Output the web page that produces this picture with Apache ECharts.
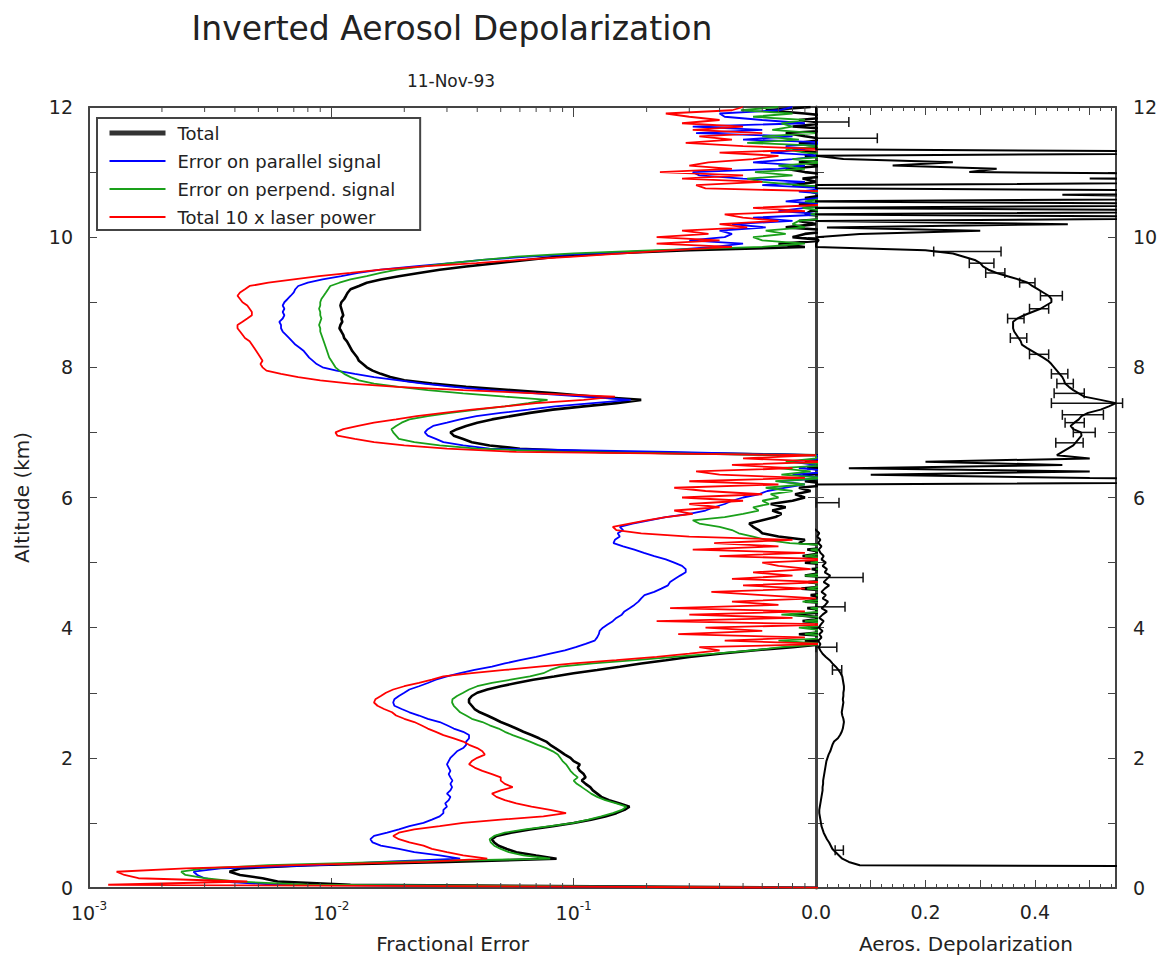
<!DOCTYPE html>
<html>
<head>
<meta charset="utf-8">
<title>Inverted Aerosol Depolarization</title>
<script src="https://cdn.jsdelivr.net/npm/echarts@6/dist/echarts.min.js"></script>
<style>
  html, body { margin: 0; padding: 0; background: #fff; }
  #chart { width: 1168px; height: 959px; }
</style>
</head>
<body>
<div id="chart"></div>
<script>
// lidar range bins, 50 m apart, 0..12 km
const altitude = Array.from({ length: 241 }, (_, i) => Math.round(i * 5) / 100);

// fractional error, one row per km (20 bins each)
const totalError = [
  1.5, 0.012, 0.006, 0.0052, 0.0042, 0.0038, 0.0042, 0.008, 0.03, 0.085, 0.07, 0.058, 0.053, 0.049, 0.047, 0.046, 0.048, 0.055, 0.066, 0.082,
  0.1, 0.118, 0.135, 0.15, 0.162, 0.17, 0.155, 0.14, 0.13, 0.125, 0.12, 0.117, 0.112, 0.108, 0.112, 0.11, 0.106, 0.104, 0.106, 0.1,
  0.097, 0.092, 0.088, 0.084, 0.08, 0.077, 0.072, 0.067, 0.062, 0.058, 0.054, 0.05, 0.047, 0.044, 0.041, 0.039, 0.038, 0.037, 0.037, 0.038,
  0.04, 0.044, 0.05, 0.058, 0.068, 0.083, 0.1, 0.125, 0.155, 0.19, 0.24, 0.3, 0.4, 0.55, 0.8, 1.1, 0.9, 1.3, 0.85, 1.2,
  0.95, 1.4, 0.88, 1.1, 0.8, 1.2, 0.92, 1.5, 0.9, 1.1, 0.95, 1.3, 0.87, 1.2, 0.93, 1.4, 0.9, 1.1, 0.96, 1.3,
  0.9, 1.2, 0.88, 1.1, 0.92, 1.3, 0.85, 0.9, 0.7, 0.6, 0.58, 0.55, 0.53, 0.6, 0.68, 0.72, 0.66, 0.75, 0.65, 0.8,
  0.9, 0.82, 0.95, 0.85, 1.2, 0.9, 1.1, 0.88, 1.3, 0.92, 1.1, 0.9, 1.2, 1.0, 0.13, 0.06, 0.045, 0.038, 0.035, 0.032,
  0.031, 0.033, 0.036, 0.04, 0.046, 0.055, 0.066, 0.082, 0.11, 0.15, 0.19, 0.12, 0.084, 0.055, 0.036, 0.026, 0.02, 0.0175, 0.016, 0.0148,
  0.014, 0.0135, 0.013, 0.0128, 0.0125, 0.0122, 0.012, 0.0118, 0.0116, 0.0113, 0.0112, 0.011, 0.0108, 0.0109, 0.0111, 0.011, 0.0112, 0.0111, 0.011, 0.0109,
  0.011, 0.0113, 0.0115, 0.0117, 0.012, 0.013, 0.014, 0.016, 0.019, 0.023, 0.028, 0.036, 0.048, 0.064, 0.085, 0.14, 0.3, 0.9, 0.7, 1.1,
  0.8, 0.9, 1.2, 0.75, 1.0, 0.85, 1.3, 0.9, 0.95, 1.2, 0.85, 1.4, 0.9, 1.1, 0.95, 1.3, 0.8, 1.0, 0.88, 1.2,
  0.9, 0.75, 1.1, 0.85, 1.3, 0.9, 1.0, 0.8, 1.2, 0.85, 1.1, 0.9, 0.75, 1.3, 0.8, 1.1, 0.85, 1.2, 0.9, 0.62,
  0.95
];

const parallelError = [
  1.5, 0.006, 0.0035, 0.003, 0.0028, 0.0027, 0.0035, 0.009, 0.016, 0.034, 0.028, 0.022, 0.019, 0.016, 0.0148, 0.0145, 0.015, 0.017, 0.019, 0.021,
  0.024, 0.026, 0.028, 0.029, 0.029, 0.03, 0.0295, 0.0305, 0.031, 0.03, 0.031, 0.0315, 0.031, 0.0316, 0.031, 0.0305, 0.031, 0.0305, 0.03, 0.0305,
  0.031, 0.032, 0.033, 0.035, 0.036, 0.036, 0.037, 0.037, 0.035, 0.032, 0.03, 0.028, 0.025, 0.023, 0.021, 0.0195, 0.0182, 0.018, 0.0182, 0.019,
  0.02, 0.021, 0.023, 0.025, 0.027, 0.03, 0.034, 0.039, 0.046, 0.052, 0.06, 0.07, 0.08, 0.092, 0.102, 0.112, 0.122, 0.125, 0.127, 0.128,
  0.132, 0.138, 0.145, 0.15, 0.158, 0.162, 0.17, 0.178, 0.185, 0.19, 0.196, 0.215, 0.23, 0.245, 0.25, 0.262, 0.275, 0.29, 0.29, 0.28,
  0.26, 0.24, 0.215, 0.195, 0.178, 0.16, 0.146, 0.148, 0.155, 0.152, 0.16, 0.155, 0.175, 0.205, 0.24, 0.3, 0.35, 0.38, 0.42, 0.45,
  0.5, 0.58, 0.63, 0.75, 0.9, 0.7, 1.1, 0.8, 1.2, 0.85, 1.0, 0.78, 1.1, 1.0, 0.25, 0.045, 0.035, 0.029, 0.027, 0.025,
  0.0243, 0.025, 0.0263, 0.03, 0.034, 0.0397, 0.05, 0.065, 0.084, 0.12, 0.172, 0.11, 0.07, 0.045, 0.032, 0.024, 0.019, 0.015, 0.0125, 0.0105,
  0.0092, 0.0087, 0.0084, 0.0081, 0.0079, 0.0077, 0.0074, 0.0071, 0.0069, 0.0067, 0.0065, 0.0063, 0.0062, 0.0062, 0.0061, 0.0063, 0.0064, 0.0063, 0.0064, 0.0063,
  0.0064, 0.0066, 0.0068, 0.007, 0.0071, 0.0073, 0.008, 0.0092, 0.011, 0.0129, 0.016, 0.022, 0.031, 0.042, 0.065, 0.12, 0.25, 0.38, 0.5, 0.3,
  0.42, 0.45, 0.4, 0.62, 0.45, 0.8, 0.55, 1.1, 0.7, 0.9, 1.2, 0.75, 1.0, 1.3, 0.85, 1.1, 0.6, 0.9, 0.5, 0.33,
  0.31, 0.7, 0.9, 0.55, 0.8, 1.1, 0.65, 0.9, 0.75, 1.2, 0.5, 0.8, 0.32, 0.6, 0.31, 0.9, 0.6, 0.42, 0.4, 0.7,
  0.8
];

const perpendError = [
  1.5, 0.008, 0.004, 0.003, 0.0025, 0.0024, 0.003, 0.0055, 0.017, 0.08, 0.062, 0.054, 0.05, 0.047, 0.0455, 0.045, 0.047, 0.052, 0.063, 0.08,
  0.1, 0.115, 0.13, 0.145, 0.158, 0.165, 0.15, 0.135, 0.125, 0.118, 0.113, 0.108, 0.103, 0.1, 0.104, 0.1, 0.097, 0.095, 0.093, 0.09,
  0.088, 0.086, 0.082, 0.077, 0.071, 0.066, 0.061, 0.056, 0.052, 0.049, 0.045, 0.042, 0.038, 0.036, 0.034, 0.033, 0.032, 0.0315, 0.0316, 0.033,
  0.035, 0.037, 0.04, 0.046, 0.055, 0.066, 0.075, 0.08, 0.088, 0.12, 0.18, 0.26, 0.38, 0.55, 0.72, 1.1, 0.7, 1.3, 0.9, 1.1,
  0.85, 1.3, 0.9, 1.2, 0.72, 1.1, 0.95, 1.4, 0.88, 1.2, 1.0, 1.3, 0.92, 1.1, 0.95, 1.3, 0.9, 1.2, 1.0, 1.4,
  0.95, 1.2, 0.9, 1.1, 0.95, 1.3, 0.78, 0.62, 0.55, 0.48, 0.45, 0.4, 0.33, 0.31, 0.42, 0.5, 0.58, 0.55, 0.64, 0.6,
  0.7, 0.65, 0.8, 0.62, 0.9, 0.68, 1.1, 0.72, 0.95, 0.7, 1.2, 0.75, 1.0, 1.0, 0.09, 0.04, 0.028, 0.022, 0.019, 0.0185,
  0.018, 0.0177, 0.0185, 0.0195, 0.021, 0.025, 0.031, 0.04, 0.052, 0.065, 0.078, 0.052, 0.035, 0.025, 0.019, 0.015, 0.013, 0.012, 0.0113, 0.0108,
  0.0104, 0.0102, 0.01, 0.0098, 0.0097, 0.0096, 0.0095, 0.0094, 0.0093, 0.0092, 0.0091, 0.009, 0.009, 0.0089, 0.009, 0.0091, 0.009, 0.009, 0.0089, 0.009,
  0.009, 0.0091, 0.0093, 0.0095, 0.0097, 0.0099, 0.0108, 0.012, 0.014, 0.016, 0.0187, 0.024, 0.031, 0.042, 0.058, 0.1, 0.22, 0.6, 0.9, 0.6,
  0.55, 0.75, 0.62, 0.9, 0.8, 0.85, 1.2, 0.95, 1.1, 0.88, 1.3, 0.9, 1.1, 1.2, 0.95, 1.4, 0.85, 0.6, 0.52, 0.8,
  0.56, 0.9, 0.7, 1.1, 0.8, 1.3, 0.9, 0.75, 1.1, 0.52, 0.85, 0.6, 1.0, 0.66, 0.8, 0.72, 0.9, 0.55, 0.8, 0.49,
  0.7
];

const laserError = [
  2.0, 0.0012, 0.0045, 0.0016, 0.0014, 0.0013, 0.0025, 0.007, 0.025, 0.044, 0.035, 0.03, 0.026, 0.024, 0.021, 0.019, 0.018, 0.019, 0.022, 0.028,
  0.035, 0.05, 0.075, 0.093, 0.08, 0.067, 0.058, 0.052, 0.048, 0.046, 0.05, 0.056, 0.052, 0.05, 0.05, 0.046, 0.042, 0.039, 0.037, 0.038,
  0.04, 0.043, 0.042, 0.04, 0.037, 0.035, 0.032, 0.029, 0.027, 0.025, 0.0235, 0.022, 0.02, 0.0185, 0.0178, 0.0165, 0.0155, 0.015, 0.0152, 0.016,
  0.0168, 0.018, 0.02, 0.023, 0.026, 0.029, 0.038, 0.052, 0.072, 0.1, 0.15, 0.22, 0.3, 0.4, 0.33, 1.1, 0.42, 0.9, 0.27, 0.6,
  0.35, 1.2, 0.22, 0.8, 0.3, 0.9, 0.25, 0.7, 0.45, 1.0, 0.6, 0.37, 0.9, 0.5, 1.1, 0.45, 0.8, 0.55, 0.95, 0.7,
  0.6, 1.2, 0.4, 0.9, 0.31, 0.7, 0.38, 0.8, 0.3, 0.19, 0.15, 0.145, 0.17, 0.2, 0.24, 0.31, 0.26, 0.4, 0.3, 0.5,
  0.28, 0.6, 0.35, 0.26, 0.7, 0.3, 0.9, 0.4, 0.32, 0.8, 0.45, 1.1, 0.5, 1.0, 0.058, 0.03, 0.02, 0.015, 0.0125, 0.0106,
  0.0104, 0.0112, 0.0129, 0.015, 0.0185, 0.0225, 0.029, 0.038, 0.052, 0.07, 0.11, 0.148, 0.07, 0.035, 0.0187, 0.012, 0.009, 0.0073, 0.0062, 0.0054,
  0.0052, 0.0051, 0.0052, 0.0051, 0.005, 0.0049, 0.0048, 0.0047, 0.0046, 0.0044, 0.0043, 0.0042, 0.0041, 0.0041, 0.0043, 0.0045, 0.0047, 0.0047, 0.0046, 0.0045,
  0.0043, 0.0042, 0.0041, 0.0042, 0.0044, 0.0046, 0.0055, 0.007, 0.0089, 0.012, 0.016, 0.024, 0.0397, 0.06, 0.1, 0.16, 0.26, 0.45, 0.22, 0.4,
  0.22, 0.36, 0.28, 0.52, 0.4, 0.7, 0.5, 0.42, 0.9, 0.55, 1.1, 1.3, 1.2, 1.5, 1.2, 0.35, 0.32, 0.6, 0.28, 0.5,
  0.227, 0.45, 0.3, 0.36, 0.55, 0.7, 0.4, 1.1, 0.5, 0.29, 0.45, 0.33, 0.6, 0.31, 0.5, 0.28, 0.4, 0.3, 0.24, 0.45,
  0.5
];

// aerosol depolarization ratio on the same bins
const depolarization = [
  2, 2, 2, 2, 2, 2, 2, 0.08, 0.06, 0.048, 0.042, 0.036, 0.03, 0.027, 0.024, 0.02, 0.017, 0.014, 0.012, 0.01,
  0.009, 0.008, 0.007, 0.006, 0.006, 0.007, 0.008, 0.009, 0.01, 0.011, 0.012, 0.012, 0.013, 0.013, 0.014, 0.015, 0.016, 0.017, 0.018, 0.019,
  0.021, 0.023, 0.026, 0.028, 0.03, 0.033, 0.04, 0.044, 0.047, 0.049, 0.05, 0.051, 0.05, 0.048, 0.047, 0.048, 0.049, 0.05, 0.049, 0.05,
  0.05, 0.051, 0.051, 0.05, 0.049, 0.048, 0.045, 0.041, 0.036, 0.03, 0.025, 0.018, 0.012, 0.008, 0.005, 0.008, 0.004, 0.01, 0.006, 0.012,
  0.005, 0.009, 0.014, 0.006, 0.012, 0.02, 0.01, 0.017, 0.022, 0.012, 0.018, 0.01, 0.016, 0.024, 0.014, 0.02, 0.026, 0.016, 0.02, 0.012,
  0.018, 0.01, 0.014, 0.008, 0.005, 0.01, 0.004, 0.008, 0.002, 0.006, 0, -0.01, -0.02, -0.01, -0.02, -0.015, -0.01, -0.02, -0.01, -0.005,
  -0.01, -0.02, -0.01, -0.02, 0, 1.2, 0.5, 0.1, 0.5, 0.06, 0.45, 0.2, 0.5, 0.44, 0.45, 0.46, 0.47, 0.475, 0.48, 0.485,
  0.484, 0.47, 0.465, 0.472, 0.48, 0.485, 0.497, 0.52, 0.535, 0.548, 0.52, 0.49, 0.48, 0.47, 0.462, 0.455, 0.453, 0.45, 0.445, 0.44,
  0.435, 0.43, 0.424, 0.415, 0.405, 0.395, 0.385, 0.376, 0.374, 0.37, 0.366, 0.362, 0.36, 0.36, 0.36, 0.368, 0.38, 0.395, 0.41, 0.42,
  0.43, 0.43, 0.425, 0.415, 0.405, 0.395, 0.387, 0.37, 0.35, 0.33, 0.315, 0.305, 0.3, 0.29, 0.27, 0.25, 0.2, 0, 0, 0.005,
  0, 0.08, 0.3, 0.02, 0.46, 0, 1.0, -0.05, 1.0, -0.05, 1.0, -0.05, 1.0, 0.45, 1.1, 0, 0, 1.0, 0.5, 1.0,
  0.28, 0.33, 0.14, 0.25, 0.05, 0, 1.0, 0, 0, 0, 0, 0, 0, 0, 0, 0, 0, 0, 0, 0,
  0
];

// error bars on the depolarization profile
const errBarAltitude = [11.77, 11.52, 9.78, 9.6, 9.45, 9.3, 9.1, 8.9, 8.75, 8.45, 8.2, 7.9, 7.75, 7.6, 7.45, 7.27, 7.15, 7.0, 6.84, 5.92, 4.77, 4.32, 3.7, 3.35, 0.58];
const errBarLow = [0, 0, 0.215, 0.28, 0.31, 0.372, 0.41, 0.39, 0.35, 0.355, 0.39, 0.43, 0.44, 0.435, 0.43, 0.45, 0.455, 0.47, 0.438, 0, 0, 0, 0, 0.03, 0.035];
const errBarHigh = [0.06, 0.112, 0.338, 0.325, 0.345, 0.4, 0.45, 0.425, 0.38, 0.385, 0.425, 0.46, 0.47, 0.49, 0.56, 0.525, 0.49, 0.51, 0.488, 0.042, 0.086, 0.053, 0.038, 0.047, 0.05];

// log axis minor tick positions
const logMinorTicks = [0.002, 0.003, 0.004, 0.005, 0.006, 0.007, 0.008, 0.009,
  0.02, 0.03, 0.04, 0.05, 0.06, 0.07, 0.08, 0.09,
  0.2, 0.3, 0.4, 0.5, 0.6, 0.7, 0.8, 0.9];

const FONT = 'DejaVu Sans';
const AXIS_COLOR = '#444';
const TEXT_COLOR = '#222';

const toPairs = vals => vals.map((v, i) => [v, altitude[i]]);

const chart = echarts.init(document.getElementById('chart'), null, { renderer: 'svg' });

const frameLine = { show: true, onZero: false, lineStyle: { color: AXIS_COLOR, width: 2 } };

const logLabel = {
  margin: 12,
  color: TEXT_COLOR,
  formatter: v => {
    const e = Math.round(Math.log10(v));
    return e >= 0 ? '' : '{b|10}{s|' + e + '}';
  },
  rich: {
    b: { fontFamily: FONT, fontSize: 19, lineHeight: 22, verticalAlign: 'bottom', color: TEXT_COLOR },
    s: { fontFamily: FONT, fontSize: 12, lineHeight: 12, verticalAlign: 'top', color: TEXT_COLOR }
  }
};

const option = {
  animation: false,
  backgroundColor: '#fff',
  textStyle: { fontFamily: FONT },
  graphic: [
    { type: 'text', x: 452, y: 28, style: { text: 'Inverted Aerosol Depolarization', font: '33px "DejaVu Sans"', fill: TEXT_COLOR, align: 'center', verticalAlign: 'middle' } },
    { type: 'text', x: 451, y: 81, style: { text: '11-Nov-93', font: '17px "DejaVu Sans"', fill: TEXT_COLOR, align: 'center', verticalAlign: 'middle' } }
  ],
  legend: {
    orient: 'vertical',
    left: 97,
    top: 118,
    padding: [6, 25, 4, 10],
    itemGap: 10,
    itemWidth: 56,
    itemHeight: 14,
    borderColor: AXIS_COLOR,
    borderWidth: 2,
    backgroundColor: '#fff',
    selectedMode: false,
    // line only, no marker in the key
    itemStyle: { opacity: 0 },
    textStyle: { fontFamily: FONT, fontSize: 18, lineHeight: 18, color: TEXT_COLOR, padding: [0, 0, 0, 7] },
    data: [
      { name: 'Total', lineStyle: { width: 5, color: '#333' } },
      { name: 'Error on parallel signal' },
      { name: 'Error on perpend. signal' },
      { name: 'Total 10 x laser power' }
    ]
  },
  grid: [
    { left: 89, top: 107, width: 727, height: 781 },
    { left: 816, top: 107, width: 300, height: 781 }
  ],
  xAxis: [
    {
      type: 'log', logBase: 10, gridIndex: 0, position: 'bottom', min: 0.001, max: 1,
      name: 'Fractional Error', nameLocation: 'middle', nameGap: 46,
      nameTextStyle: { fontFamily: FONT, fontSize: 20, color: TEXT_COLOR },
      axisLine: frameLine,
      axisTick: { inside: true, length: 10, lineStyle: { color: AXIS_COLOR } },
      axisLabel: logLabel,
      splitLine: { show: false }
    },
    {
      type: 'log', logBase: 10, gridIndex: 0, position: 'top', min: 0.001, max: 1,
      axisLine: frameLine,
      axisTick: { inside: true, length: 10, lineStyle: { color: AXIS_COLOR } },
      axisLabel: { show: false },
      splitLine: { show: false }
    },
    {
      type: 'value', gridIndex: 1, position: 'bottom', min: 0, max: 0.548, interval: 0.1,
      name: 'Aeros. Depolarization', nameLocation: 'middle', nameGap: 46,
      nameTextStyle: { fontFamily: FONT, fontSize: 20, color: TEXT_COLOR },
      axisLine: frameLine,
      axisTick: { inside: true, length: 8, lineStyle: { color: AXIS_COLOR } },
      minorTick: { show: true, splitNumber: 5, length: 4, lineStyle: { color: AXIS_COLOR } },
      axisLabel: {
        margin: 14, fontSize: 19, color: TEXT_COLOR,
        formatter: v => (Math.round(v * 10) % 2 === 0 && v <= 0.5 ? v.toFixed(1) : '')
      },
      splitLine: { show: false }
    },
    {
      type: 'value', gridIndex: 1, position: 'top', min: 0, max: 0.548, interval: 0.1,
      axisLine: frameLine,
      axisTick: { inside: true, length: 8, lineStyle: { color: AXIS_COLOR } },
      minorTick: { show: true, splitNumber: 5, length: 4, lineStyle: { color: AXIS_COLOR } },
      axisLabel: { show: false },
      splitLine: { show: false }
    }
  ],
  yAxis: [
    {
      type: 'value', gridIndex: 0, position: 'left', min: 0, max: 12, interval: 1,
      name: 'Altitude (km)', nameLocation: 'middle', nameGap: 57,
      nameTextStyle: { fontFamily: FONT, fontSize: 20, color: TEXT_COLOR },
      axisLine: frameLine,
      axisTick: { inside: true, length: 8, lineStyle: { color: AXIS_COLOR } },
      axisLabel: { margin: 16, fontSize: 19, color: TEXT_COLOR, formatter: v => (v % 2 === 0 ? String(v) : '') },
      splitLine: { show: false }
    },
    {
      type: 'value', gridIndex: 0, position: 'right', min: 0, max: 12, interval: 1,
      axisLine: frameLine,
      axisTick: { inside: true, length: 8, lineStyle: { color: AXIS_COLOR } },
      axisLabel: { show: false },
      splitLine: { show: false }
    },
    {
      type: 'value', gridIndex: 1, position: 'left', min: 0, max: 12, interval: 1,
      axisLine: { show: true, onZero: false, lineStyle: { color: AXIS_COLOR, width: 3 } },
      axisTick: { inside: true, length: 8, lineStyle: { color: AXIS_COLOR } },
      axisLabel: { show: false },
      splitLine: { show: false }
    },
    {
      type: 'value', gridIndex: 1, position: 'right', min: 0, max: 12, interval: 1,
      axisLine: frameLine,
      axisTick: { inside: true, length: 8, lineStyle: { color: AXIS_COLOR } },
      axisLabel: { margin: 17, fontSize: 19, color: TEXT_COLOR, formatter: v => (v % 2 === 0 ? String(v) : '') },
      splitLine: { show: false }
    }
  ],
  series: [
    {
      name: 'Total', type: 'line', xAxisIndex: 0, yAxisIndex: 0,
      data: toPairs(totalError), symbol: 'none', clip: true,
      lineStyle: { color: '#000', width: 2.6 }, itemStyle: { color: '#000' }
    },
    {
      name: 'Error on parallel signal', type: 'line', xAxisIndex: 0, yAxisIndex: 0,
      data: toPairs(parallelError), symbol: 'none', clip: true,
      lineStyle: { color: '#0000ff', width: 1.8 }, itemStyle: { color: '#0000ff' }
    },
    {
      name: 'Error on perpend. signal', type: 'line', xAxisIndex: 0, yAxisIndex: 0,
      data: toPairs(perpendError), symbol: 'none', clip: true,
      lineStyle: { color: '#1aa01a', width: 1.8 }, itemStyle: { color: '#1aa01a' }
    },
    {
      name: 'Total 10 x laser power', type: 'line', xAxisIndex: 0, yAxisIndex: 0,
      data: toPairs(laserError), symbol: 'none', clip: true,
      lineStyle: { color: '#ff0000', width: 1.8 }, itemStyle: { color: '#ff0000' }
    },
    {
      name: 'Aerosol depolarization', type: 'line', xAxisIndex: 2, yAxisIndex: 2,
      data: toPairs(depolarization), symbol: 'none', clip: true,
      lineStyle: { color: '#000', width: 2 }, itemStyle: { color: '#000' }
    },
    {
      name: 'Depolarization error', type: 'custom', xAxisIndex: 2, yAxisIndex: 2,
      data: errBarAltitude.map((a, i) => [a, errBarLow[i], errBarHigh[i]]),
      encode: { x: [1, 2], y: 0 },
      silent: true,
      renderItem: (params, api) => {
        const y = api.value(0);
        const p1 = api.coord([api.value(1), y]);
        const p2 = api.coord([api.value(2), y]);
        const style = { stroke: '#111', lineWidth: 1.5 };
        return {
          type: 'group',
          children: [
            { type: 'line', shape: { x1: p1[0], y1: p1[1], x2: p2[0], y2: p2[1] }, style },
            { type: 'line', shape: { x1: p1[0], y1: p1[1] - 5, x2: p1[0], y2: p1[1] + 5 }, style },
            { type: 'line', shape: { x1: p2[0], y1: p2[1] - 5, x2: p2[0], y2: p2[1] + 5 }, style }
          ]
        };
      }
    },
    {
      name: 'minor ticks', type: 'custom', xAxisIndex: 0, yAxisIndex: 0,
      data: logMinorTicks.map(v => [v, 0]),
      encode: { x: 0, y: 1 },
      silent: true,
      z: 5,
      renderItem: (params, api) => {
        const v = api.value(0);
        const b = api.coord([v, 0]);
        const t = api.coord([v, 12]);
        const style = { stroke: AXIS_COLOR, lineWidth: 1 };
        return {
          type: 'group',
          children: [
            { type: 'line', shape: { x1: b[0], y1: b[1], x2: b[0], y2: b[1] - 5 }, style },
            { type: 'line', shape: { x1: t[0], y1: t[1], x2: t[0], y2: t[1] + 5 }, style }
          ]
        };
      }
    }
  ]
};

chart.setOption(option);
</script>
</body>
</html>
